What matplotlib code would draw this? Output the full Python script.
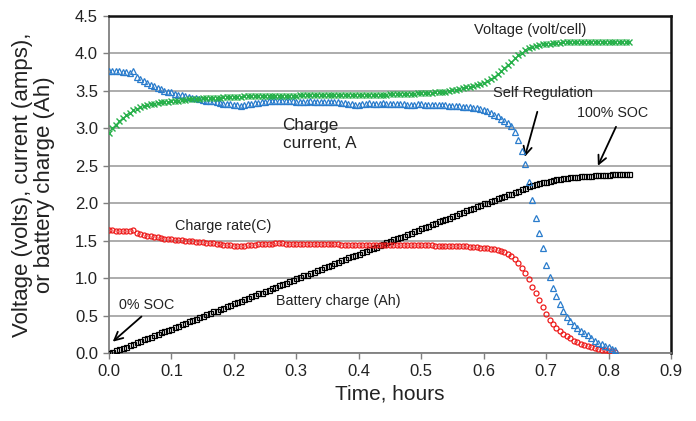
import numpy as np
import matplotlib
matplotlib.use("Agg")
import matplotlib.pyplot as plt

plt.rcParams['font.family'] = ['Liberation Sans', 'DejaVu Sans']

# sampling interval: 20 s expressed in hours
interval_h = 20 / 3600

voltage = [2.94, 3.00, 3.05, 3.10, 3.14, 3.18, 3.21, 3.24, 3.26, 3.28,
           3.30, 3.31, 3.32, 3.33, 3.34, 3.345, 3.35, 3.355, 3.36, 3.365,
           3.37, 3.375, 3.38, 3.385, 3.39, 3.39, 3.395, 3.40, 3.40, 3.405,
           3.41, 3.41, 3.41, 3.415, 3.415, 3.42, 3.42, 3.42, 3.42, 3.425,
           3.425, 3.425, 3.43, 3.43, 3.43, 3.43, 3.43, 3.43, 3.435, 3.435,
           3.435, 3.435, 3.435, 3.435, 3.435, 3.44, 3.44, 3.44, 3.44, 3.44,
           3.44, 3.44, 3.44, 3.44, 3.44, 3.44, 3.445, 3.445, 3.445, 3.445,
           3.445, 3.445, 3.445, 3.445, 3.45, 3.45, 3.45, 3.45, 3.45, 3.45,
           3.45, 3.455, 3.455, 3.455, 3.46, 3.46, 3.46, 3.46, 3.46, 3.465,
           3.465, 3.47, 3.47, 3.475, 3.48, 3.48, 3.49, 3.49, 3.50, 3.505,
           3.515, 3.525, 3.535, 3.545, 3.555, 3.57, 3.58, 3.595, 3.61, 3.635,
           3.66, 3.69, 3.72, 3.76, 3.80, 3.85, 3.89, 3.94, 3.98, 4.01,
           4.04, 4.07, 4.09, 4.10, 4.11, 4.12, 4.125, 4.13, 4.135, 4.14,
           4.14, 4.145, 4.15, 4.15, 4.15, 4.15, 4.155, 4.155, 4.155, 4.155,
           4.155, 4.155, 4.155, 4.155, 4.155, 4.155, 4.155, 4.15, 4.15, 4.15,
           4.15]

current = [3.77, 3.77, 3.76, 3.76, 3.75, 3.75, 3.74, 3.77, 3.68, 3.66,
           3.63, 3.61, 3.58, 3.56, 3.54, 3.52, 3.50, 3.49, 3.48, 3.46,
           3.45, 3.44, 3.43, 3.42, 3.41, 3.40, 3.39, 3.38, 3.37, 3.365,
           3.36, 3.35, 3.34, 3.33, 3.325, 3.32, 3.31, 3.31, 3.30, 3.31,
           3.32, 3.33, 3.335, 3.34, 3.345, 3.35, 3.36, 3.36, 3.365, 3.37,
           3.37, 3.365, 3.36, 3.36, 3.355, 3.355, 3.35, 3.355, 3.36, 3.355,
           3.35, 3.35, 3.345, 3.35, 3.355, 3.35, 3.345, 3.34, 3.335, 3.33,
           3.32, 3.315, 3.31, 3.32, 3.33, 3.335, 3.33, 3.325, 3.33, 3.335,
           3.33, 3.325, 3.32, 3.32, 3.325, 3.32, 3.315, 3.31, 3.315, 3.32,
           3.32, 3.315, 3.315, 3.31, 3.31, 3.31, 3.305, 3.305, 3.30, 3.30,
           3.30, 3.295, 3.29, 3.285, 3.28, 3.275, 3.27, 3.255, 3.24, 3.225,
           3.20, 3.18, 3.16, 3.13, 3.10, 3.07, 3.03, 2.95, 2.84, 2.70,
           2.53, 2.28, 2.04, 1.80, 1.60, 1.40, 1.18, 1.02, 0.87, 0.76,
           0.66, 0.56, 0.49, 0.43, 0.38, 0.34, 0.30, 0.27, 0.24, 0.20,
           0.17, 0.14, 0.12, 0.10, 0.08, 0.06, 0.04]

charge_rate = [1.64, 1.64, 1.635, 1.635, 1.63, 1.63, 1.63, 1.64, 1.60, 1.59,
               1.58, 1.57, 1.56, 1.55, 1.545, 1.54, 1.53, 1.525, 1.52, 1.515,
               1.51, 1.505, 1.50, 1.50, 1.495, 1.49, 1.485, 1.48, 1.475, 1.47,
               1.465, 1.46, 1.455, 1.45, 1.445, 1.44, 1.435, 1.43, 1.43, 1.435,
               1.44, 1.445, 1.45, 1.455, 1.455, 1.46, 1.46, 1.46, 1.465, 1.465,
               1.465, 1.46, 1.46, 1.46, 1.46, 1.46, 1.455, 1.46, 1.46, 1.46,
               1.455, 1.455, 1.455, 1.455, 1.46, 1.455, 1.455, 1.45, 1.45, 1.45,
               1.445, 1.445, 1.44, 1.445, 1.45, 1.45, 1.45, 1.445, 1.45, 1.45,
               1.45, 1.445, 1.445, 1.445, 1.445, 1.445, 1.44, 1.44, 1.44, 1.445,
               1.44, 1.44, 1.44, 1.44, 1.435, 1.435, 1.435, 1.43, 1.43, 1.43,
               1.43, 1.43, 1.425, 1.425, 1.42, 1.42, 1.415, 1.41, 1.405, 1.40,
               1.395, 1.39, 1.38, 1.37, 1.35, 1.33, 1.30, 1.26, 1.21, 1.14,
               1.07, 0.99, 0.89, 0.80, 0.71, 0.62, 0.53, 0.45, 0.39, 0.34,
               0.30, 0.26, 0.23, 0.20, 0.17, 0.15, 0.13, 0.11, 0.10, 0.085,
               0.07, 0.06, 0.05, 0.045, 0.035, 0.03, 0.02]

battery_charge = [0.00, 0.02, 0.04, 0.06, 0.07, 0.09, 0.11, 0.13, 0.15, 0.17,
                  0.19, 0.20, 0.22, 0.24, 0.26, 0.28, 0.30, 0.31, 0.33, 0.35,
                  0.37, 0.39, 0.41, 0.43, 0.44, 0.46, 0.48, 0.50, 0.52, 0.54,
                  0.56, 0.57, 0.59, 0.61, 0.63, 0.65, 0.67, 0.68, 0.70, 0.72,
                  0.74, 0.76, 0.78, 0.80, 0.81, 0.83, 0.85, 0.87, 0.89, 0.91,
                  0.93, 0.94, 0.96, 0.98, 1.00, 1.02, 1.04, 1.05, 1.07, 1.09,
                  1.11, 1.13, 1.15, 1.17, 1.18, 1.20, 1.22, 1.24, 1.26, 1.28,
                  1.30, 1.31, 1.33, 1.35, 1.37, 1.39, 1.41, 1.42, 1.44, 1.46,
                  1.48, 1.50, 1.52, 1.54, 1.55, 1.57, 1.59, 1.61, 1.63, 1.65,
                  1.67, 1.68, 1.70, 1.72, 1.74, 1.76, 1.78, 1.79, 1.81, 1.83,
                  1.85, 1.87, 1.89, 1.91, 1.92, 1.94, 1.96, 1.98, 2.00, 2.01,
                  2.03, 2.05, 2.07, 2.08, 2.10, 2.12, 2.13, 2.15, 2.17, 2.19,
                  2.21, 2.23, 2.245, 2.26, 2.27, 2.28, 2.29, 2.30, 2.31, 2.32,
                  2.33, 2.335, 2.34, 2.345, 2.35, 2.355, 2.36, 2.365, 2.37, 2.37,
                  2.375, 2.375, 2.38, 2.38, 2.38, 2.385, 2.385, 2.385, 2.39, 2.39,
                  2.39]

x_ticks = [0.0, 0.1, 0.2, 0.3, 0.4, 0.5, 0.6, 0.7, 0.8, 0.9]
y_ticks = [0.0, 0.5, 1.0, 1.5, 2.0, 2.5, 3.0, 3.5, 4.0, 4.5]

t_long = np.arange(len(voltage)) * interval_h
t_short = np.arange(len(current)) * interval_h

fig = plt.figure(figsize=(6.96, 4.21), dpi=100)
ax = fig.add_axes([0.1566, 0.1608, 0.8074, 0.8017])

ax.set_xlim(0, 0.9)
ax.set_ylim(0, 4.5)
ax.set_yticks(y_ticks)
ax.set_xticks(x_ticks)
ax.set_yticklabels([f"{v:.1f}" for v in y_ticks])
ax.set_xticklabels([f"{v:.1f}" for v in x_ticks])
ax.yaxis.grid(True, color='#a6a6a6', lw=1.3)
ax.set_axisbelow(True)

for s in ['top', 'right']:
    ax.spines[s].set_color('#111111')
    ax.spines[s].set_linewidth(1.8)
for s in ['left', 'bottom']:
    ax.spines[s].set_color('#7f7f7f')
    ax.spines[s].set_linewidth(1.3)
ax.tick_params(axis='both', direction='out', length=4, width=1, color='#7f7f7f',
               labelsize=12, labelcolor='#222222', pad=4)

ms = 3.6
mew = 0.9
ax.plot(t_long, battery_charge, ls='none', marker='s', ms=ms, mfc='none',
        mec='black', mew=mew, zorder=3)
ax.plot(t_short, charge_rate, ls='none', marker='o', ms=ms, mfc='none',
        mec='#ee1c1c', mew=mew, zorder=3)
ax.plot(t_short, current, ls='none', marker='^', ms=4.2, mfc='none',
        mec='#2a7ccc', mew=mew, zorder=4)
ax.plot(t_long, voltage, ls='none', marker='x', ms=3.8, mec='#27b04a',
        mew=1.0, zorder=4)

ax.set_xlabel('Time, hours', fontsize=15, color='#222222', labelpad=4)
ax.set_ylabel('Voltage (volts), current (amps),\nor battery charge (Ah)',
              fontsize=16, color='#222222', labelpad=14, linespacing=1.08)

tc = '#222222'
ax.text(0.675, 4.31, 'Voltage (volt/cell)', fontsize=10.5, ha='center', va='center', color=tc)
ax.text(0.695, 3.47, 'Self Regulation', fontsize=10.5, ha='center', va='center', color=tc)
ax.text(0.807, 3.21, '100% SOC', fontsize=10.3, ha='center', va='center', color=tc)
ax.text(0.278, 2.92, 'Charge\ncurrent, A', fontsize=12.3, ha='left', va='center',
        color=tc, linespacing=1.25)
ax.text(0.1056, 1.70, 'Charge rate(C)', fontsize=10.4, ha='left', va='center', color=tc)
ax.text(0.267, 0.70, 'Battery charge (Ah)', fontsize=10.3, ha='left', va='center', color=tc)
ax.text(0.016, 0.644, '0% SOC', fontsize=10.3, ha='left', va='center', color=tc)

arrow_kw = dict(arrowstyle='->,head_length=0.6,head_width=0.3', color='black', lw=1.3,
                shrinkA=0, shrinkB=0)
ax.annotate('', xy=(0.006, 0.155), xytext=(0.052, 0.49), arrowprops=arrow_kw)
ax.annotate('', xy=(0.666, 2.62), xytext=(0.686, 3.22), arrowprops=arrow_kw)
ax.annotate('', xy=(0.783, 2.50), xytext=(0.812, 3.02), arrowprops=arrow_kw)

fig.savefig('out.png', dpi=100)
